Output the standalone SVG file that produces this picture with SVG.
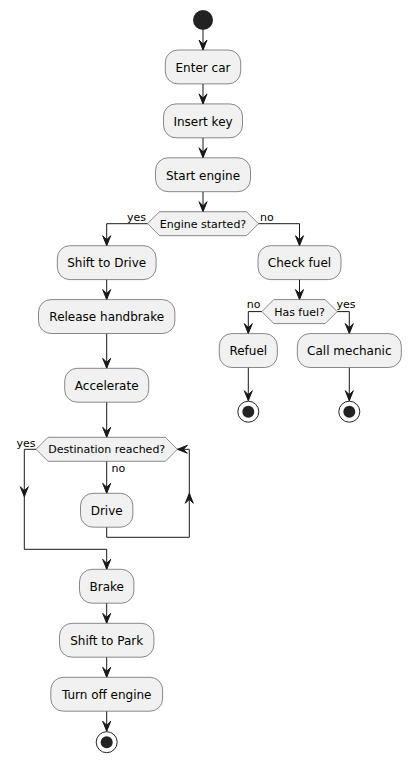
<svg xmlns="http://www.w3.org/2000/svg" width="411" height="763" viewBox="0 0 411 763">
<style>
.box{fill:#F1F1F1;stroke:#181818;stroke-width:0.5}
.t{font-family:"DejaVu Sans",sans-serif;font-size:12px;fill:#000;text-anchor:middle}
.dt{font-family:"DejaVu Sans",sans-serif;font-size:11px;fill:#000;text-anchor:middle}
.lbl{font-family:"DejaVu Sans",sans-serif;font-size:11px;fill:#000}
.ln{fill:none;stroke:#181818;stroke-width:1}
.ah{fill:#181818;stroke:#181818;stroke-width:1}
</style>
<defs>
<polygon id="ah" class="ah" points="-4,-10 0,0 4,-10 0,-6"/>
</defs>
<rect width="411" height="763" fill="#FFFFFF"/>
<g id="connectors">
<path class="ln" d="M203,30 V50"/><use href="#ah" x="203" y="50"/>
<path class="ln" d="M203,83.9 V103.9"/><use href="#ah" x="203" y="103.9"/>
<path class="ln" d="M203,137.8 V157.8"/><use href="#ah" x="203" y="157.8"/>
<path class="ln" d="M203,191.7 V211.7"/><use href="#ah" x="203" y="211.7"/>
<path class="ln" d="M147.5,223.7 H106.7 V245.7"/><use href="#ah" x="106.7" y="245.7"/>
<text class="lbl" x="146" y="220.5" text-anchor="end">yes</text>
<path class="ln" d="M258.5,223.7 H299.5 V245.7"/><use href="#ah" x="299.5" y="245.7"/>
<text class="lbl" x="260" y="220.5">no</text>
<path class="ln" d="M106.7,279.6 V299.6"/><use href="#ah" x="106.7" y="299.6"/>
<path class="ln" d="M106.7,333.5 V368.3"/><use href="#ah" x="106.7" y="368.3"/>
<path class="ln" d="M106.7,402.2 V437.3"/><use href="#ah" x="106.7" y="437.3"/>
<path class="ln" d="M106.7,461.3 V493.3"/><use href="#ah" x="106.7" y="493.3"/>
<text class="lbl" x="111.5" y="471.5">no</text>
<path class="ln" d="M106.7,527.2 V537.3 H189.3 V449.3 H177.4"/>
<use href="#ah" transform="translate(189.3,493.3) rotate(180)"/>
<use href="#ah" transform="translate(177.4,449.3) rotate(90)"/>
<path class="ln" d="M36,449.3 H24.3 V549.3 H106.7 V569.3"/>
<use href="#ah" x="24.3" y="496.7"/>
<use href="#ah" x="106.7" y="569.3"/>
<text class="lbl" x="35.5" y="447" text-anchor="end">yes</text>
<path class="ln" d="M106.7,603.2 V623.3"/><use href="#ah" x="106.7" y="623.3"/>
<path class="ln" d="M106.7,657.2 V677.3"/><use href="#ah" x="106.7" y="677.3"/>
<path class="ln" d="M106.7,711.2 V731.2"/><use href="#ah" x="106.7" y="731.2"/>
<path class="ln" d="M299.5,279.6 V299.6"/><use href="#ah" x="299.5" y="299.6"/>
<path class="ln" d="M261.8,311.6 H248.3 V333.6"/><use href="#ah" x="248.3" y="333.6"/>
<text class="lbl" x="260.5" y="308.3" text-anchor="end">no</text>
<path class="ln" d="M337.2,311.6 H349.3 V333.6"/><use href="#ah" x="349.3" y="333.6"/>
<text class="lbl" x="336.5" y="308.3">yes</text>
<path class="ln" d="M248.3,367.5 V400.7"/><use href="#ah" x="248.3" y="400.7"/>
<path class="ln" d="M349.3,367.5 V400.7"/><use href="#ah" x="349.3" y="400.7"/>
</g>
<g id="start"><circle cx="203" cy="20" r="10" fill="#222222"/></g>
<g id="enter-car"><rect class="box" x="165.3" y="50" width="75.4" height="33.9" rx="12.5"/><text class="t" x="203" y="71.7">Enter car</text></g>
<g id="insert-key"><rect class="box" x="163.5" y="103.9" width="79" height="33.9" rx="12.5"/><text class="t" x="203" y="125.6">Insert key</text></g>
<g id="start-engine"><rect class="box" x="155.5" y="157.8" width="95" height="33.9" rx="12.5"/><text class="t" x="203" y="179.5">Start engine</text></g>
<g id="engine-started"><polygon class="box" points="147.5,223.7 159.5,211.7 246.5,211.7 258.5,223.7 246.5,235.7 159.5,235.7"/><text class="dt" x="203" y="227.6">Engine started?</text></g>
<g id="shift-drive"><rect class="box" x="57.3" y="245.7" width="98.8" height="33.9" rx="12.5"/><text class="t" x="106.7" y="267.4">Shift to Drive</text></g>
<g id="release-handbrake"><rect class="box" x="38.5" y="299.6" width="136.4" height="33.9" rx="12.5"/><text class="t" x="106.7" y="321.3">Release handbrake</text></g>
<g id="accelerate"><rect class="box" x="64.7" y="368.3" width="84" height="33.9" rx="12.5"/><text class="t" x="106.7" y="390">Accelerate</text></g>
<g id="destination"><polygon class="box" points="36,449.3 48,437.3 165.4,437.3 177.4,449.3 165.4,461.3 48,461.3"/><text class="dt" x="106.7" y="453.2">Destination reached?</text></g>
<g id="drive"><rect class="box" x="80.5" y="493.3" width="52.4" height="33.9" rx="12.5"/><text class="t" x="106.7" y="515">Drive</text></g>
<g id="brake"><rect class="box" x="79.5" y="569.3" width="54.4" height="33.9" rx="12.5"/><text class="t" x="106.7" y="591">Brake</text></g>
<g id="shift-park"><rect class="box" x="59.5" y="623.3" width="94.4" height="33.9" rx="12.5"/><text class="t" x="106.7" y="645">Shift to Park</text></g>
<g id="turn-off"><rect class="box" x="50.8" y="677.3" width="111.8" height="33.9" rx="12.5"/><text class="t" x="106.7" y="699">Turn off engine</text></g>
<g id="end-main"><circle cx="106.7" cy="742.2" r="10.5" fill="none" stroke="#222222" stroke-width="1"/><circle cx="106.7" cy="742.2" r="6" fill="#222222"/></g>
<g id="check-fuel"><rect class="box" x="258" y="245.7" width="83" height="33.9" rx="12.5"/><text class="t" x="299.5" y="267.4">Check fuel</text></g>
<g id="has-fuel"><polygon class="box" points="261.8,311.6 273.8,299.6 325.2,299.6 337.2,311.6 325.2,323.6 273.8,323.6"/><text class="dt" x="299.5" y="315.5">Has fuel?</text></g>
<g id="refuel"><rect class="box" x="219.3" y="333.6" width="58" height="33.9" rx="12.5"/><text class="t" x="248.3" y="355.3">Refuel</text></g>
<g id="call-mechanic"><rect class="box" x="297.3" y="333.6" width="104" height="33.9" rx="12.5"/><text class="t" x="349.3" y="355.3">Call mechanic</text></g>
<g id="end-refuel"><circle cx="248.3" cy="411.7" r="10.5" fill="none" stroke="#222222" stroke-width="1"/><circle cx="248.3" cy="411.7" r="6" fill="#222222"/></g>
<g id="end-mechanic"><circle cx="349.3" cy="411.7" r="10.5" fill="none" stroke="#222222" stroke-width="1"/><circle cx="349.3" cy="411.7" r="6" fill="#222222"/></g>
</svg>
